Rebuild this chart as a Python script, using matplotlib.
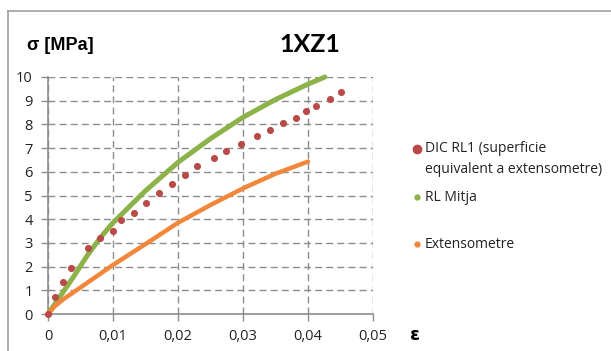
import matplotlib
matplotlib.use("Agg")
import matplotlib.pyplot as plt
from matplotlib.lines import Line2D

# DIC RL1 points
dic_x = [0.0, 0.001, 0.00225, 0.0035, 0.0062, 0.008, 0.01, 0.0113, 0.0132, 0.015,
         0.017, 0.019, 0.021, 0.0229, 0.0255, 0.0274, 0.0297, 0.0321, 0.0341,
         0.0361, 0.0381, 0.0397, 0.0412, 0.0434, 0.045]
dic_y = [0.0, 0.73, 1.37, 1.96, 2.77, 3.2, 3.5, 3.97, 4.28, 4.7,
         5.1, 5.48, 5.87, 6.25, 6.6, 6.86, 7.18, 7.52, 7.75,
         8.06, 8.28, 8.56, 8.79, 9.08, 9.35]

# RL Mitja line
mitja_x = [0.0, 0.002, 0.004, 0.006, 0.008, 0.01, 0.015, 0.02, 0.025, 0.03, 0.035, 0.04, 0.0426]
mitja_y = [0.0, 0.8, 1.6, 2.45, 3.2, 3.85, 5.2, 6.4, 7.4, 8.3, 9.05, 9.7, 10.0]

# Extensometre line
ext_x = [0.0, 0.001, 0.0025, 0.005, 0.01, 0.015, 0.02, 0.025, 0.03, 0.035, 0.04]
ext_y = [0.0, 0.32, 0.65, 1.12, 2.07, 2.95, 3.85, 4.6, 5.3, 5.92, 6.43]

x_ticks = [0, 0.01, 0.02, 0.03, 0.04, 0.05]
x_labels = ["0", "0,01", "0,02", "0,03", "0,04", "0,05"]
y_ticks = list(range(0, 11))

title = "1XZ1"
ylab = "σ [MPa]"
xlab = "ε"
legend_labels = ["DIC RL1 (superficie\nequivalent a extensometre)", "RL Mitja", "Extensometre"]

c_dic = "#b94a48"
c_green = "#8db24a"
c_orange = "#f0873a"
c_grid = "#8c8c8c"

W, H = 611, 351
fig = plt.figure(figsize=(W / 100, H / 100), dpi=100)
fig.patch.set_facecolor("white")

# outer chart border (top and left)
fig.add_artist(Line2D([8 / W, 8 / W], [0, 1 - 11 / H], transform=fig.transFigure,
                      color="#a0a0a0", lw=1.2))
fig.add_artist(Line2D([8 / W, 1], [1 - 11 / H, 1 - 11 / H], transform=fig.transFigure,
                      color="#a0a0a0", lw=1.2))

x0, x1 = 48 / W, 373 / W
y0, y1 = 1 - 314 / H, 1 - 77 / H
ax = fig.add_axes([x0, y0, x1 - x0, y1 - y0])
ax.set_xlim(0, 0.05)
ax.set_ylim(0, 10)
ax.set_xticks(x_ticks)
ax.set_xticklabels(x_labels)
ax.set_yticks(y_ticks)

ax.grid(True, color=c_grid, linestyle=(0, (5, 3)), lw=1.0)
ax.set_axisbelow(True)
for s in ["top", "right"]:
    ax.spines[s].set_visible(False)
for s in ["left", "bottom"]:
    ax.spines[s].set_color(c_grid)
    ax.spines[s].set_linewidth(1.2)
ax.tick_params(direction="out", length=5, width=1, color=c_grid, labelsize=10.5,
               labelcolor="#222222", pad=6)
for lab in ax.get_xticklabels() + ax.get_yticklabels():
    lab.set_fontfamily("Open Sans")

ax.plot(mitja_x, mitja_y, color=c_green, lw=3.6, solid_capstyle="round", clip_on=False, zorder=3)
ax.plot(ext_x, ext_y, color=c_orange, lw=3.2, solid_capstyle="round", clip_on=False, zorder=4)
ax.scatter(dic_x, dic_y, s=26, color=c_dic, zorder=5, clip_on=False, linewidths=0)

# titles
fig.text(310 / W, 1 - 45 / H, title, ha="center", va="center", fontsize=18,
         fontweight="bold", family="Lato")
fig.text(27 / W, 1 - 45 / H, ylab, ha="left", va="center", fontsize=13,
         fontweight="bold", family="Liberation Sans")
fig.text(415 / W, 1 - 335 / H, xlab, ha="center", va="center", fontsize=13,
         fontweight="bold", family="DejaVu Sans")

# legend (manual)
leg_items = [
    (149, c_dic, 6, legend_labels[0], 159),
    (197, c_green, 3.5, legend_labels[1], 197),
    (244, c_orange, 3.5, legend_labels[2], 244),
]
for ym, col, ms, txt, yt in leg_items:
    fig.add_artist(Line2D([416.5 / W], [1 - ym / H], marker="o", markersize=ms,
                          color=col, linestyle="none", transform=fig.transFigure))
    fig.text(425 / W, 1 - yt / H, txt, ha="left", va="center", fontsize=10,
             family="Open Sans", color="#222222", linespacing=1.5)

fig.savefig("out.png", dpi=100)
